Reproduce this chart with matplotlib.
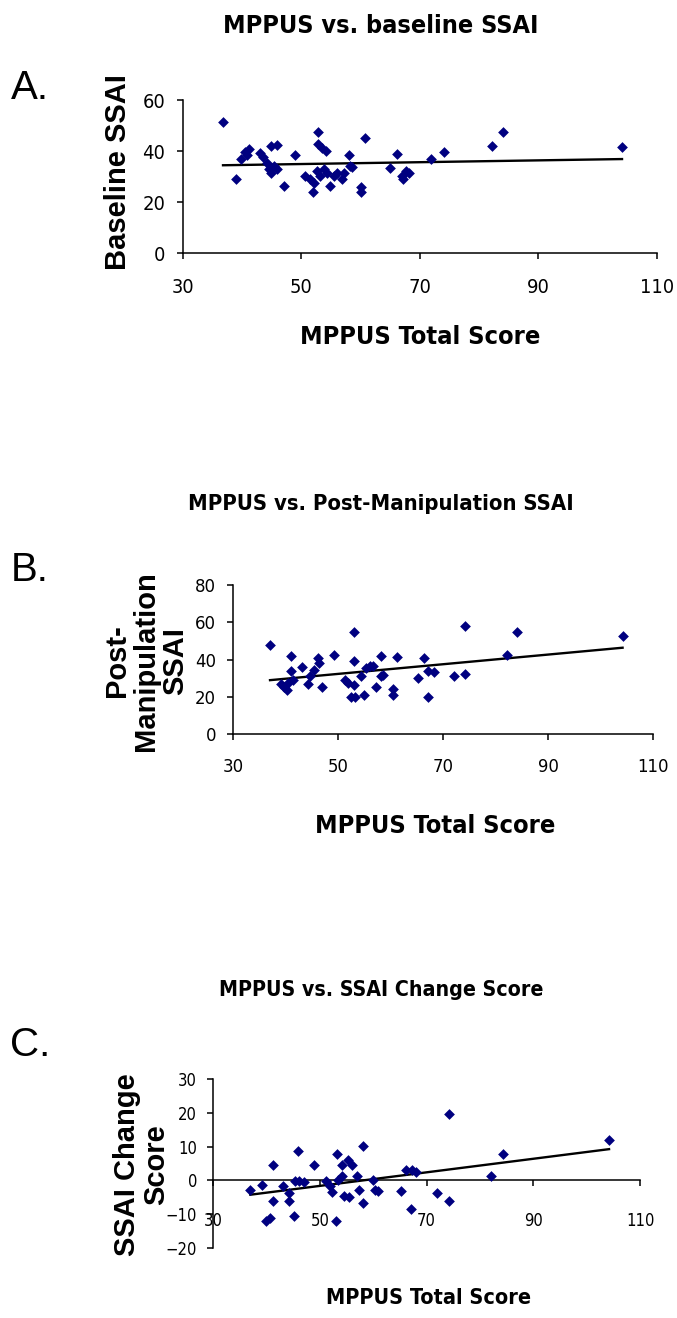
import numpy as np
import matplotlib
matplotlib.use("Agg")
import matplotlib.pyplot as plt
from matplotlib import font_manager
from matplotlib.font_manager import FontProperties

# --- data ---
a_x = [36.8, 39.0, 39.8, 40.5, 41.1, 40.8, 43.0, 43.6, 44.2, 44.5, 44.9, 44.9, 45.9,
       45.9, 45.4, 47.1, 49.0, 50.7, 51.5, 52.0, 52.2, 52.9, 52.9, 53.5, 54.1, 52.7,
       53.2, 53.8, 54.4, 54.9, 55.5, 56.0, 56.9, 57.2, 58.0, 58.3, 58.6, 60.0, 60.1,
       60.8, 64.9, 66.2, 67.0, 67.2, 67.6, 68.2, 71.9, 74.1, 82.1, 84.1, 104.1]
a_y = [51.4, 29.0, 36.8, 39.5, 40.8, 38.4, 39.2, 37.5, 35.5, 32.9, 42.1, 31.6, 42.3,
       32.9, 34.2, 26.4, 38.4, 30.1, 29.0, 24.1, 27.7, 47.3, 42.7, 41.4, 40.1, 32.3,
       30.3, 32.9, 31.6, 26.4, 30.3, 31.6, 29.0, 31.6, 38.4, 34.2, 33.6, 25.8, 24.1,
       45.3, 33.2, 38.8, 30.3, 29.0, 32.3, 31.6, 37.1, 39.5, 42.1, 47.3, 41.7]

b_x = [37.0, 39.1, 39.7, 40.2, 40.5, 41.0, 41.0, 41.3, 43.0, 44.2, 44.7, 45.3, 46.1,
       46.4, 47.0, 49.1, 51.2, 51.8, 52.5, 53.1, 53.1, 53.0, 53.2, 54.4, 55.0, 55.3,
       56.0, 56.6, 57.2, 58.2, 58.2, 58.5, 60.4, 60.4, 61.2, 65.2, 66.3, 67.1, 67.1,
       68.2, 72.0, 74.1, 74.1, 82.2, 84.1, 104.2]
b_y = [48.0, 27.0, 25.5, 23.7, 27.3, 42.1, 33.6, 29.1, 35.8, 27.0, 30.9, 34.5, 40.8,
       38.1, 25.5, 42.6, 28.8, 27.3, 20.1, 54.7, 39.4, 26.4, 20.1, 30.9, 21.0, 35.4,
       36.3, 36.7, 25.5, 42.1, 30.9, 31.8, 24.1, 21.0, 41.3, 30.0, 40.8, 33.6, 20.1,
       33.1, 31.3, 58.2, 32.4, 42.6, 54.7, 52.5]

c_x = [37.0, 39.2, 40.0, 40.7, 41.2, 41.2, 43.1, 44.2, 44.3, 45.2, 45.4, 46.0, 46.2,
       47.0, 49.0, 51.2, 52.0, 52.3, 53.1, 53.2, 53.5, 54.1, 54.1, 54.5, 55.2, 55.4,
       56.0, 56.9, 57.3, 58.1, 58.1, 59.9, 60.4, 61.0, 65.2, 66.2, 67.1, 67.2, 68.0,
       72.0, 74.3, 74.3, 82.1, 84.3, 104.2]
c_y = [-2.9, -1.3, -12.0, -11.0, 4.6, -6.2, -1.8, -6.2, -3.7, -10.6, -0.3, 8.8, -0.3,
       -0.6, 4.6, -0.3, -1.8, -3.5, -12.0, 7.8, 0.2, 1.4, 4.6, -4.7, 6.1, -4.9,
       4.6, 1.4, -2.7, 10.2, -6.6, 0.2, -2.7, -3.2, -3.2, 3.1, -8.6, 3.1, 2.6,
       -3.7, 19.7, -6.2, 1.2, 7.8, 12.1]

x_ticks = [30, 50, 70, 90, 110]

titles = ["MPPUS vs. baseline SSAI",
          "MPPUS vs. Post-Manipulation SSAI",
          "MPPUS vs. SSAI Change Score"]
letters = ["A.", "B.", "C."]
y_labels = ["Baseline SSAI", "Post-\nManipulation\nSSAI", "SSAI Change\nScore"]
x_label = "MPPUS Total Score"

plt.rcParams["font.family"] = ["Liberation Sans", "DejaVu Sans"]


# narrow faces (like Arial Narrow) for titles and numbers, if any are installed
def weight_num(w):
    return w if isinstance(w, int) else font_manager.weight_dict.get(w, 400)


def is_narrow(f):
    return ("Narrow" in f.name or "Condensed" in f.name
            or f.stretch in ("condensed", "semi-condensed"))


narrow = [f for f in font_manager.fontManager.ttflist if is_narrow(f)
          and "Italic" not in f.fname and "Oblique" not in f.fname and f.style == "normal"]
order = ["Liberation Sans Narrow", "Arial Narrow", "DejaVu Sans", "Roboto Condensed"]
narrow.sort(key=lambda f: order.index(f.name) if f.name in order else len(order))
bold_f = next((f for f in narrow if weight_num(f.weight) >= 700), None)
reg_f = None
if bold_f is not None:
    reg_f = next((f for f in narrow if f.name == bold_f.name
                  and 400 <= weight_num(f.weight) < 600), None)
bold_fp = (FontProperties(fname=bold_f.fname) if bold_f
           else FontProperties(family="Liberation Sans", weight="bold"))
reg_fp = (FontProperties(fname=reg_f.fname) if reg_f
          else FontProperties(family="Liberation Sans"))

W, H = 677, 1318
fig = plt.figure(figsize=(W / 100, H / 100), dpi=100)
fig.patch.set_facecolor("white")
renderer = fig.canvas.get_renderer()


def box(left, right, top, bottom):
    return [left / W, 1 - bottom / H, (right - left) / W, (bottom - top) / H]


def ftext(x, y, s, **kw):
    return fig.text(x / W, 1 - y / H, s, **kw)


def fit_width(t, width):
    w = t.get_window_extent(renderer).width
    t.set_fontsize(t.get_fontsize() * width / w)


def narrow_text(x, y, s, width):
    fp = bold_fp.copy()
    fp.set_size(20)
    t = ftext(x, y, s, ha="center", va="center", fontproperties=fp)
    fit_width(t, width)
    return t


panels = [
    dict(x=a_x, y=a_y, rect=box(182.7, 657, 100, 253.3), ylim=(0, 60), yt=[0, 20, 40, 60],
         title_y=26, title_w=315, letter_y=88, ylab=(117.5, 172), xlab=(420, 337),
         xlab_w=240, xpad=13, ypad=8, tick_w=23),
    dict(x=b_x, y=b_y, rect=box(233.3, 653, 585, 734), ylim=(0, 80), yt=[0, 20, 40, 60, 80],
         title_y=504, title_w=386, letter_y=570, ylab=(146, 661), xlab=(435, 826),
         xlab_w=240, xpad=13, ypad=8, tick_w=21),
    dict(x=c_x, y=c_y, rect=box(213, 640, 1079, 1248), ylim=(-20, 30),
         yt=[-20, -10, 0, 10, 20, 30],
         title_y=990, title_w=324, letter_y=1045, ylab=(142, 1165), xlab=(428, 1298),
         xlab_w=205, xpad=18, ypad=7, tick_w=19),
]

for i, p in enumerate(panels):
    ax = fig.add_axes(p["rect"])
    ax.scatter(p["x"], p["y"], marker="D", s=30, color="#000080", linewidths=0, zorder=3)

    # linear trend line through the points
    k, b = np.polyfit(p["x"], p["y"], 1)
    xs = np.array([min(p["x"]), max(p["x"])])
    ax.plot(xs, k * xs + b, color="black", lw=1.7, zorder=2)

    ax.set_xlim(30, 110)
    ax.set_ylim(*p["ylim"])
    ax.set_xticks(x_ticks)
    ax.set_yticks(p["yt"])
    for sp in ["top", "right"]:
        ax.spines[sp].set_visible(False)
    for sp in ["left", "bottom"]:
        ax.spines[sp].set_linewidth(1.1)
    if i == 2:
        ax.spines["bottom"].set_position(("data", 0))

    # tick number size: a two-digit label as wide as in the picture
    probe = reg_fp.copy()
    probe.set_size(15)
    t = ftext(0, 0, "60", fontproperties=probe)
    tick_fs = 15 * p["tick_w"] / t.get_window_extent(renderer).width
    t.remove()

    ax.tick_params(axis="both", direction="out", length=4.5, width=1.1, colors="black")
    ax.tick_params(axis="x", pad=p["xpad"])
    ax.tick_params(axis="y", pad=p["ypad"])
    for lab in ax.get_xticklabels() + ax.get_yticklabels():
        fp = reg_fp.copy()
        fp.set_size(tick_fs)
        lab.set_fontproperties(fp)
    ax.set_facecolor("white")

    narrow_text(381, p["title_y"], titles[i], p["title_w"])
    ftext(30, p["letter_y"], letters[i], ha="center", va="center", fontsize=29)
    ftext(p["ylab"][0], p["ylab"][1], y_labels[i], ha="center", va="center",
          rotation=90, fontsize=21, fontweight="bold", linespacing=1.05,
          multialignment="center")
    narrow_text(p["xlab"][0], p["xlab"][1], x_label, p["xlab_w"])

fig.savefig("out.png", dpi=100, facecolor="white")
